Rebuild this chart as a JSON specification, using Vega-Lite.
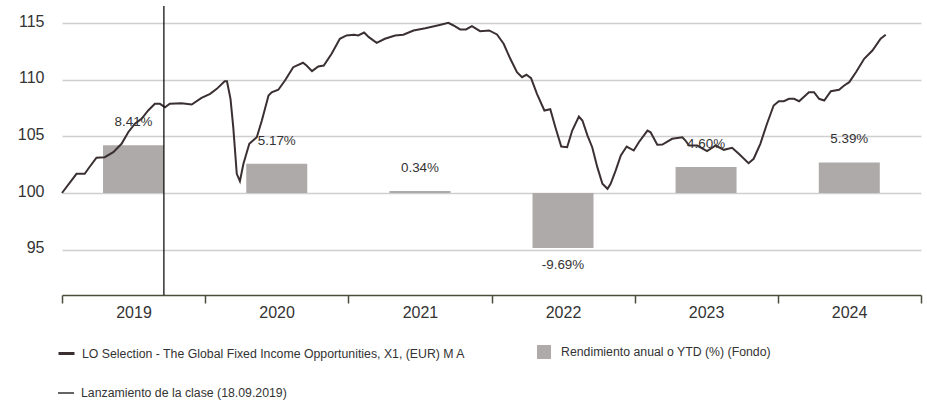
{
  "$schema": "https://vega.github.io/schema/vega-lite/v6.json",
  "width": 859,
  "height": 289,
  "autosize": {"type": "none"},
  "padding": {"left": 62, "top": 6, "right": 6, "bottom": 105},
  "background": "white",
  "datasets": {
    "nav": [
      {"date": "2019-01-01", "v": 100.0}, {"date": "2019-02-07", "v": 101.69}, {"date": "2019-02-28", "v": 101.69},
      {"date": "2019-03-09", "v": 102.14}, {"date": "2019-03-30", "v": 103.11}, {"date": "2019-04-20", "v": 103.16},
      {"date": "2019-05-12", "v": 103.6}, {"date": "2019-06-02", "v": 104.34}, {"date": "2019-06-19", "v": 105.36},
      {"date": "2019-07-06", "v": 106.11}, {"date": "2019-07-23", "v": 106.55}, {"date": "2019-08-09", "v": 107.28},
      {"date": "2019-08-26", "v": 107.87}, {"date": "2019-09-08", "v": 107.87}, {"date": "2019-09-21", "v": 107.57},
      {"date": "2019-10-03", "v": 107.87}, {"date": "2019-11-02", "v": 107.92}, {"date": "2019-11-28", "v": 107.81},
      {"date": "2019-12-23", "v": 108.4}, {"date": "2020-01-14", "v": 108.75}, {"date": "2020-01-31", "v": 109.19},
      {"date": "2020-02-20", "v": 109.86}, {"date": "2020-02-26", "v": 109.86}, {"date": "2020-03-06", "v": 108.31},
      {"date": "2020-03-13", "v": 105.81}, {"date": "2020-03-22", "v": 101.69}, {"date": "2020-03-30", "v": 101.04},
      {"date": "2020-04-08", "v": 102.58}, {"date": "2020-04-23", "v": 104.34}, {"date": "2020-05-12", "v": 104.92},
      {"date": "2020-05-25", "v": 106.4}, {"date": "2020-06-11", "v": 108.6}, {"date": "2020-06-19", "v": 108.89},
      {"date": "2020-07-06", "v": 109.11}, {"date": "2020-07-23", "v": 109.93}, {"date": "2020-08-13", "v": 111.1},
      {"date": "2020-09-07", "v": 111.49}, {"date": "2020-09-16", "v": 111.25}, {"date": "2020-09-30", "v": 110.75},
      {"date": "2020-10-16", "v": 111.16}, {"date": "2020-10-30", "v": 111.25}, {"date": "2020-11-19", "v": 112.28},
      {"date": "2020-12-10", "v": 113.61}, {"date": "2020-12-27", "v": 113.9}, {"date": "2021-01-15", "v": 113.96},
      {"date": "2021-01-26", "v": 113.9}, {"date": "2021-02-10", "v": 114.16}, {"date": "2021-02-22", "v": 113.75},
      {"date": "2021-03-14", "v": 113.25}, {"date": "2021-04-04", "v": 113.61}, {"date": "2021-04-30", "v": 113.9},
      {"date": "2021-05-21", "v": 113.96}, {"date": "2021-06-16", "v": 114.34}, {"date": "2021-07-16", "v": 114.54},
      {"date": "2021-08-19", "v": 114.81}, {"date": "2021-09-13", "v": 115.02}, {"date": "2021-09-26", "v": 114.78},
      {"date": "2021-10-13", "v": 114.43}, {"date": "2021-10-28", "v": 114.43}, {"date": "2021-11-12", "v": 114.72},
      {"date": "2021-12-03", "v": 114.28}, {"date": "2021-12-26", "v": 114.34}, {"date": "2022-01-15", "v": 113.99},
      {"date": "2022-02-01", "v": 113.17}, {"date": "2022-02-18", "v": 111.84}, {"date": "2022-03-07", "v": 110.66},
      {"date": "2022-03-20", "v": 110.22}, {"date": "2022-03-31", "v": 110.43}, {"date": "2022-04-12", "v": 110.13},
      {"date": "2022-04-27", "v": 108.75}, {"date": "2022-05-16", "v": 107.28}, {"date": "2022-05-31", "v": 107.39},
      {"date": "2022-06-13", "v": 105.81}, {"date": "2022-06-28", "v": 104.1}, {"date": "2022-07-13", "v": 104.04},
      {"date": "2022-07-26", "v": 105.51}, {"date": "2022-08-12", "v": 106.75}, {"date": "2022-08-21", "v": 106.4},
      {"date": "2022-09-03", "v": 105.07}, {"date": "2022-09-15", "v": 104.04}, {"date": "2022-09-28", "v": 102.28},
      {"date": "2022-10-11", "v": 100.81}, {"date": "2022-10-24", "v": 100.37}, {"date": "2022-11-01", "v": 100.81},
      {"date": "2022-11-14", "v": 101.99}, {"date": "2022-11-27", "v": 103.31}, {"date": "2022-12-12", "v": 104.1},
      {"date": "2022-12-30", "v": 103.75}, {"date": "2023-01-12", "v": 104.48}, {"date": "2023-02-03", "v": 105.51},
      {"date": "2023-02-11", "v": 105.36}, {"date": "2023-02-28", "v": 104.25}, {"date": "2023-03-13", "v": 104.28},
      {"date": "2023-04-07", "v": 104.78}, {"date": "2023-05-03", "v": 104.92}, {"date": "2023-05-11", "v": 104.63},
      {"date": "2023-05-20", "v": 104.19}, {"date": "2023-06-10", "v": 104.19}, {"date": "2023-07-05", "v": 103.69},
      {"date": "2023-07-27", "v": 104.19}, {"date": "2023-08-17", "v": 103.81}, {"date": "2023-09-07", "v": 103.99},
      {"date": "2023-09-24", "v": 103.46}, {"date": "2023-10-19", "v": 102.63}, {"date": "2023-11-01", "v": 103.02},
      {"date": "2023-11-18", "v": 104.34}, {"date": "2023-12-05", "v": 106.11}, {"date": "2023-12-22", "v": 107.72},
      {"date": "2024-01-04", "v": 108.1}, {"date": "2024-01-17", "v": 108.1}, {"date": "2024-01-30", "v": 108.31},
      {"date": "2024-02-12", "v": 108.31}, {"date": "2024-02-25", "v": 108.1}, {"date": "2024-03-21", "v": 108.89},
      {"date": "2024-04-03", "v": 108.89}, {"date": "2024-04-16", "v": 108.31}, {"date": "2024-04-29", "v": 108.16},
      {"date": "2024-05-16", "v": 108.98}, {"date": "2024-06-06", "v": 109.11}, {"date": "2024-06-19", "v": 109.49},
      {"date": "2024-07-02", "v": 109.78}, {"date": "2024-07-19", "v": 110.66}, {"date": "2024-08-09", "v": 111.84},
      {"date": "2024-08-30", "v": 112.57}, {"date": "2024-09-20", "v": 113.61}, {"date": "2024-10-03", "v": 113.96}
    ],
    "annual": [
      {"year": "2019", "ret": 8.41, "label": "8.41%"},
      {"year": "2020", "ret": 5.17, "label": "5.17%"},
      {"year": "2021", "ret": 0.34, "label": "0.34%"},
      {"year": "2022", "ret": -9.69, "label": "-9.69%"},
      {"year": "2023", "ret": 4.6, "label": "4.60%"},
      {"year": "2024", "ret": 5.39, "label": "5.39%"}
    ],
    "launch": [{"date": "2019-09-18"}]
  },
  "layer": [
    {
      "data": {"name": "annual"},
      "mark": {"type": "bar", "size": 61},
      "encoding": {
        "x": {"field": "year", "timeUnit": "utcyear", "type": "temporal", "bandPosition": 0.5},
        "y": {"field": "ret", "type": "quantitative", "scale": {"domain": [-18, 33], "nice": false, "zero": false}, "axis": null},
        "fill": {
          "datum": "Rendimiento anual o YTD (%) (Fondo)",
          "scale": {"range": ["#aeaaa9"]},
          "legend": {
            "orient": "none",
            "legendX": 475,
            "legendY": 339,
            "title": null,
            "labelOffset": 10,
            "labelFont": "Liberation Sans",
            "labelFontSize": 12.3,
            "labelColor": "#333333",
            "labelLimit": 600,
            "symbolSize": 196,
            "symbolType": "square",
            "symbolStrokeWidth": 0
          }
        }
      }
    },
    {
      "data": {"name": "annual"},
      "transform": [{"filter": "datum.ret >= 0"}],
      "mark": {"type": "text", "dy": -23, "baseline": "middle", "align": "center", "font": "Liberation Sans", "fontSize": 13.4, "color": "#333333"},
      "encoding": {
        "x": {"field": "year", "timeUnit": "utcyear", "type": "temporal", "bandPosition": 0.5},
        "y": {"field": "ret", "type": "quantitative", "scale": {"domain": [-18, 33], "nice": false, "zero": false}, "axis": null},
        "text": {"field": "label"}
      }
    },
    {
      "data": {"name": "annual"},
      "transform": [{"filter": "datum.ret < 0"}],
      "mark": {"type": "text", "dy": 17, "baseline": "middle", "align": "center", "font": "Liberation Sans", "fontSize": 13.4, "color": "#333333"},
      "encoding": {
        "x": {"field": "year", "timeUnit": "utcyear", "type": "temporal", "bandPosition": 0.5},
        "y": {"field": "ret", "type": "quantitative", "scale": {"domain": [-18, 33], "nice": false, "zero": false}, "axis": null},
        "text": {"field": "label"}
      }
    },
    {
      "data": {"name": "nav"},
      "mark": {"type": "line", "strokeWidth": 2},
      "encoding": {
        "x": {
          "field": "date",
          "type": "temporal",
          "scale": {
            "type": "utc",
            "domain": [
              {"year": 2019, "month": 1, "date": 1, "utc": true},
              {"year": 2025, "month": 1, "date": 1, "utc": true}
            ]
          },
          "axis": {
            "title": null,
            "grid": false,
            "values": [
              {"year": 2019, "month": 1, "date": 1, "utc": true},
              {"year": 2020, "month": 1, "date": 1, "utc": true},
              {"year": 2021, "month": 1, "date": 1, "utc": true},
              {"year": 2022, "month": 1, "date": 1, "utc": true},
              {"year": 2023, "month": 1, "date": 1, "utc": true},
              {"year": 2024, "month": 1, "date": 1, "utc": true},
              {"year": 2025, "month": 1, "date": 1, "utc": true}
            ],
            "labelExpr": "utcyear(datum.value) < 2025 ? utcFormat(datum.value, '%Y') : ''",
            "labelOffset": 71.5,
            "labelFlush": false,
            "labelOverlap": false,
            "domainColor": "#4b4c3a",
            "domainWidth": 1.5,
            "tickColor": "#4b4c3a",
            "tickWidth": 1.5,
            "tickSize": 8,
            "labelPadding": 1,
            "labelFont": "Liberation Sans",
            "labelFontSize": 16,
            "labelColor": "#333333"
          }
        },
        "y": {
          "field": "v",
          "type": "quantitative",
          "scale": {"domain": [91, 116.5], "nice": false, "zero": false},
          "axis": {
            "title": null,
            "values": [95, 100, 105, 110, 115],
            "grid": true,
            "gridColor": "#cfcfcf",
            "gridWidth": 1.5,
            "domain": false,
            "ticks": false,
            "labelPadding": 18,
            "labelOffset": -2,
            "labelFont": "Liberation Sans",
            "labelFontSize": 16,
            "labelColor": "#333333"
          }
        },
        "stroke": {
          "datum": "LO Selection - The Global Fixed Income Opportunities, X1, (EUR) M A",
          "scale": {"range": ["#3b3031"]},
          "legend": {
            "orient": "none",
            "legendX": -5,
            "legendY": 338,
            "title": null,
            "labelOffset": 6,
            "labelFont": "Liberation Sans",
            "labelFontSize": 12.3,
            "labelColor": "#333333",
            "labelLimit": 600,
            "symbolSize": 256,
            "symbolType": "stroke",
            "symbolStrokeWidth": 3
          }
        }
      }
    },
    {
      "data": {"name": "launch"},
      "mark": {"type": "rule", "strokeWidth": 1.3},
      "encoding": {
        "x": {"field": "date", "type": "temporal"},
        "color": {
          "datum": "Lanzamiento de la clase (18.09.2019)",
          "scale": {"range": ["#111111"]},
          "legend": {
            "orient": "none",
            "legendX": -5,
            "legendY": 378,
            "title": null,
            "labelOffset": 6,
            "labelFont": "Liberation Sans",
            "labelFontSize": 12.3,
            "labelColor": "#333333",
            "labelLimit": 600,
            "symbolSize": 256,
            "symbolType": "stroke",
            "symbolStrokeWidth": 1.3
          }
        }
      }
    }
  ],
  "resolve": {"scale": {"y": "independent"}, "axis": {"y": "independent"}},
  "config": {
    "view": {"stroke": null}
  }
}
